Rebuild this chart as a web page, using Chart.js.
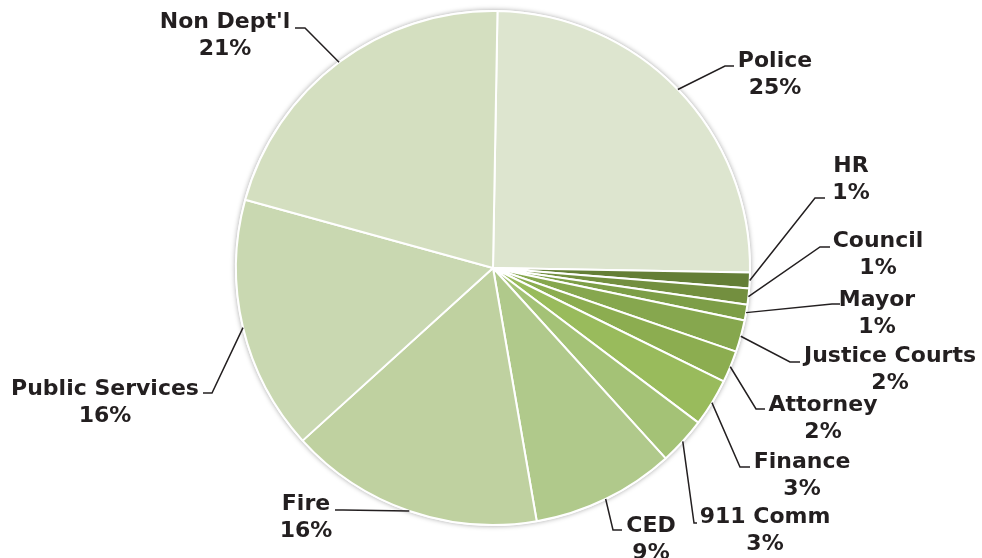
<!DOCTYPE html>
<html>
<head>
<meta charset="utf-8">
<title>General Fund by Department</title>
<script src="https://cdn.jsdelivr.net/npm/chart.js@4/dist/chart.umd.min.js"></script>
<style>
  html, body { margin: 0; padding: 0; background: #fff; }
  #wrap { width: 982px; height: 558px; }
</style>
</head>
<body>
<div id="wrap"><canvas id="pie" width="982" height="558"></canvas></div>
<script>
// departments, clockwise from the top
const departments = ['Police', 'HR', 'Council', 'Mayor', 'Justice Courts', 'Attorney',
                     'Finance', '911 Comm', 'CED', 'Fire', 'Public Services', "Non Dept'l"];
const shares = [25, 1, 1, 1, 2, 2, 3, 3, 9, 16, 16, 21];
const sliceColors = ['#dde5cf', '#647e36', '#738f3f', '#7d9e47', '#86a74e', '#8cad50',
                     '#99bb5c', '#a4c276', '#b0c98b', '#bfd1a0', '#c9d8b1', '#d4dfc0'];

// where each callout sits: text centre x, first baseline y, leader elbow and hook end
const calloutSpots = [
  { x: 775, y: 67,  elbow: [725, 66],  hook: [734, 66] },
  { x: 851, y: 172, elbow: [815, 198], hook: [825, 198] },
  { x: 878, y: 247, elbow: [820, 247], hook: [830, 247] },
  { x: 877, y: 306, elbow: [832, 304], hook: [840, 304] },
  { x: 890, y: 362, elbow: [790, 362], hook: [800, 362] },
  { x: 823, y: 411, elbow: [756, 409], hook: [765, 409] },
  { x: 802, y: 468, elbow: [740, 467], hook: [750, 467] },
  { x: 765, y: 523, elbow: [694, 523], hook: [697, 523] },
  { x: 651, y: 532, elbow: [613, 530], hook: [622, 530] },
  { x: 306, y: 510, elbow: [343, 510], hook: [335, 510] },
  { x: 105, y: 395, elbow: [212, 393], hook: [203, 393] },
  { x: 225, y: 28,  elbow: [305, 28],  hook: [295, 28] }
];

const INK = '#231f20';

// soft grey rim behind the pie
const pieShadow = {
  id: 'pieShadow',
  beforeDatasetsDraw(chart) {
    const arc = chart.getDatasetMeta(0).data[0];
    if (!arc) return;
    const ctx = chart.ctx;
    ctx.save();
    ctx.shadowColor = 'rgba(0,0,0,0.35)';
    ctx.shadowBlur = 5;
    ctx.fillStyle = '#fff';
    ctx.beginPath();
    ctx.arc(arc.x, arc.y, arc.outerRadius + 1, 0, Math.PI * 2);
    ctx.fill();
    ctx.restore();
  }
};

// name + percent callouts with leader lines
const callouts = {
  id: 'callouts',
  afterDatasetsDraw(chart) {
    const ctx = chart.ctx;
    const meta = chart.getDatasetMeta(0);
    const total = shares.reduce((a, b) => a + b, 0);
    ctx.save();
    ctx.strokeStyle = INK;
    ctx.lineWidth = 1.5;
    ctx.fillStyle = INK;
    ctx.font = 'bold 22px "DejaVu Sans", Verdana, sans-serif';
    ctx.textAlign = 'center';
    ctx.textBaseline = 'alphabetic';

    meta.data.forEach((arc, i) => {
      const spot = calloutSpots[i];
      const mid = (arc.startAngle + arc.endAngle) / 2;
      const ax = arc.x + Math.cos(mid) * arc.outerRadius;
      const ay = arc.y + Math.sin(mid) * arc.outerRadius;

      ctx.beginPath();
      ctx.moveTo(ax, ay);
      ctx.lineTo(spot.elbow[0], spot.elbow[1]);
      ctx.lineTo(spot.hook[0], spot.hook[1]);
      ctx.stroke();

      const pct = Math.round(shares[i] / total * 100) + '%';
      ctx.fillText(departments[i], spot.x, spot.y);
      ctx.fillText(pct, spot.x, spot.y + 27);
    });
    ctx.restore();
  }
};

new Chart(document.getElementById('pie'), {
  type: 'pie',
  data: {
    labels: departments,
    datasets: [{
      data: shares,
      backgroundColor: sliceColors,
      borderColor: '#ffffff',
      borderWidth: 2
    }]
  },
  options: {
    responsive: false,
    animation: false,
    rotation: 1,
    layout: { padding: { left: 235, right: 231, top: 10, bottom: 32 } },
    plugins: {
      legend: { display: false },
      tooltip: { enabled: false }
    }
  },
  plugins: [pieShadow, callouts]
});
</script>
</body>
</html>
